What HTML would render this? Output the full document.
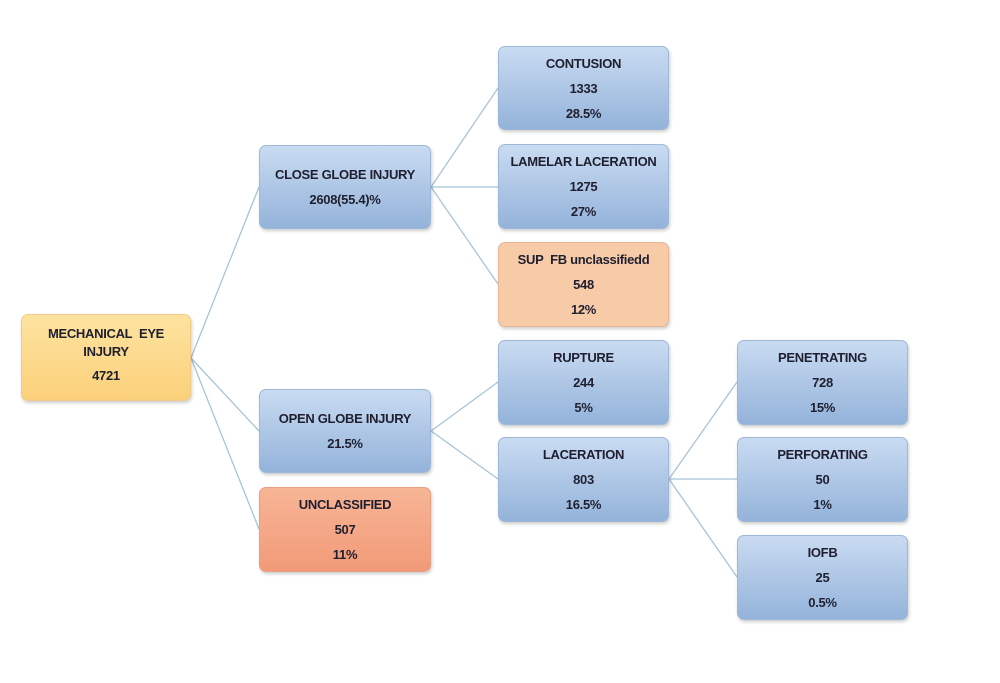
<!DOCTYPE html>
<html><head><style>
body{margin:0;background:#fff;width:1000px;height:683px;position:relative;overflow:hidden;font-family:"Liberation Sans",sans-serif}
.b{position:absolute;border-radius:7px;box-sizing:border-box;display:flex;flex-direction:column;justify-content:center;align-items:center;font-weight:bold;font-size:13px;color:#1f1f2f;line-height:25px;text-align:center;box-shadow:1px 2px 3px rgba(0,0,0,.2);letter-spacing:-0.3px}
.bl{background:linear-gradient(#c9dbf2,#94b3da);border:1px solid #9fb8d8}
.or{background:#f7cba8;border:1px solid #e8b896}
.rd{background:linear-gradient(#f7b596,#f29a78);border:1px solid #e8a080}
.ye{background:linear-gradient(#fde3a0,#fbd07a);border:1px solid #f0cc88}
svg{position:absolute;left:0;top:0}
</style></head><body>
<svg width="1000" height="683"><g stroke="#a8c4d8" stroke-width="1.3" fill="none">
<path d="M191 358L259 187M191 358L259 431M191 358L259 529"/>
<path d="M431 187L498 88M431 187L498 187M431 187L498 284"/>
<path d="M431 431L498 382M431 431L498 479"/>
<path d="M669 479L737 382M669 479L737 479M669 479L737 577"/>
</g></svg>
<div class="b ye" style="left:21px;top:314px;width:170px;height:87px;line-height:18px">MECHANICAL&nbsp; EYE<br>INJURY<span style="line-height:30px">4721</span></div>
<div class="b bl" style="left:259px;top:145px;width:172px;height:84px">CLOSE GLOBE INJURY<br>2608(55.4)%</div>
<div class="b bl" style="left:259px;top:389px;width:172px;height:84px">OPEN GLOBE INJURY<br>21.5%</div>
<div class="b rd" style="left:259px;top:487px;width:172px;height:85px">UNCLASSIFIED<br>507<br>11%</div>
<div class="b bl" style="left:498px;top:46px;width:171px;height:84px">CONTUSION<br>1333<br>28.5%</div>
<div class="b bl" style="left:498px;top:144px;width:171px;height:85px">LAMELAR LACERATION<br>1275<br>27%</div>
<div class="b or" style="left:498px;top:242px;width:171px;height:85px">SUP&nbsp; FB unclassifiedd<br>548<br>12%</div>
<div class="b bl" style="left:498px;top:340px;width:171px;height:85px">RUPTURE<br>244<br>5%</div>
<div class="b bl" style="left:498px;top:437px;width:171px;height:85px">LACERATION<br>803<br>16.5%</div>
<div class="b bl" style="left:737px;top:340px;width:171px;height:85px">PENETRATING<br>728<br>15%</div>
<div class="b bl" style="left:737px;top:437px;width:171px;height:85px">PERFORATING<br>50<br>1%</div>
<div class="b bl" style="left:737px;top:535px;width:171px;height:85px">IOFB<br>25<br>0.5%</div>
</body></html>
